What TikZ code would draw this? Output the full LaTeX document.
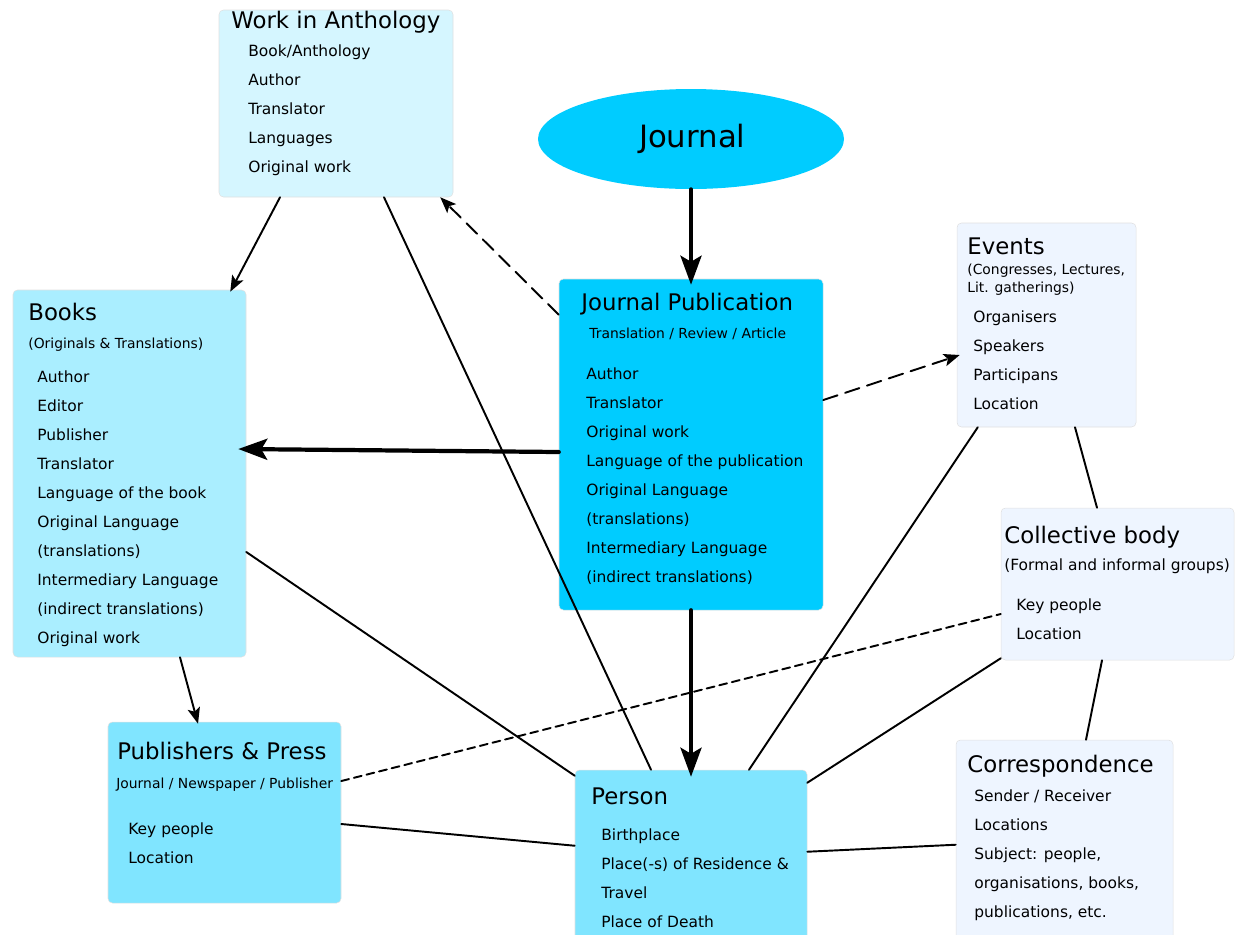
\documentclass[tikz,border=0pt]{standalone}
\usepackage{fontspec}
\setmainfont{DejaVu Sans}
\usetikzlibrary{arrows.meta,shapes.geometric}

\definecolor{jourblue}{HTML}{00CCFF}
\definecolor{bookblue}{HTML}{AAEEFF}
\definecolor{midblue}{HTML}{80E5FF}
\definecolor{paleblue}{HTML}{D5F6FF}
\definecolor{faintblue}{HTML}{EEF5FF}

\begin{document}
\begin{tikzpicture}[x=0.02cm,y=-0.02cm,line cap=round,line join=round,
  every node/.style={inner sep=0pt},
  card/.style={rectangle,rounded corners=2.5pt,draw=black!12,line width=0.3pt},
  dims/.style args={#1/#2}{minimum width={#1*0.02cm},minimum height={#2*0.02cm}},
  head/.style={anchor=base west,font=\fontsize{13}{15}\selectfont},
  sub/.style={anchor=base west,align=left,font=\fontsize{7.9}{9.7}\selectfont},
  items/.style={anchor=base west,align=left,font=\fontsize{8.8}{16.5}\selectfont},
  link/.style={line width=1.1pt},
  heavy/.style={line width=2.4pt,-{Stealth[length=0.58cm,width=0.42cm,inset=0.12cm]}},
  thinarrow/.style={link,-{Stealth[length=0.32cm,width=0.25cm,inset=0.07cm]}}]
  \useasboundingbox (0,0) rectangle (1236,934);
  \clip (0,0) rectangle (1236,934);

  % boxes
  \node[card,fill=paleblue,dims=234/187] (wia) at (336,103.5) {};
  \node[ellipse,fill=jourblue,dims=306/100] (journal) at (691,139) {\fontsize{17.5}{20}\selectfont\hspace{0.05cm}Journal};
  \node[card,fill=jourblue,dims=264/331] (jp) at (691,444.5) {};
  \node[card,fill=faintblue,dims=179/204] (events) at (1046.5,325) {};
  \node[card,fill=faintblue,dims=233/152] (coll) at (1117.5,584) {};
  \node[card,fill=faintblue,dims=217/220] (corr) at (1064.5,850) {};
  \node[card,fill=bookblue,dims=233/367] (books) at (129.5,473.5) {};
  \node[card,fill=midblue,dims=233/181] (pubs) at (224.5,812.5) {};
  \node[card,fill=midblue,dims=232/190] (person) at (691,865) {};

  % texts (multi-line nodes sit on their last baseline)
  \node[head] (wiaT) at (231,28) {Work in Anthology};
  \node[items] (wiaL) at (248,172) {Book/Anthology\\Author\\Translator\\Languages\\Original work};

  \node[head] (jpT) at (581,310) {Journal Publication};
  \node[sub] (jpS) at (589,338) {Translation / Review / Article};
  \node[items] (jpL) at (586,582) {Author\\Translator\\Original work\\Language of the publication\\Original Language\\(translations)\\Intermediary Language\\(indirect translations)};

  \node[head] (eventsT) at (967,254) {Events};
  \node[sub] (eventsS) at (967,292) {(Congresses, Lectures,\\Lit. gatherings)};
  \node[items] (eventsL) at (973,409) {Organisers\\Speakers\\Participans\\Location};

  \node[head] (collT) at (1004,543) {Collective body};
  \node[items] (collS) at (1004,570) {(Formal and informal groups)};
  \node[items] (collL) at (1016,639) {Key people\\Location};

  \node[head] (corrT) at (967,772) {Correspondence};
  \node[items] (corrL) at (974,917) {Sender / Receiver\\Locations\\Subject: people,\\organisations, books,\\publications, etc.};

  \node[head] (booksT) at (28,320) {Books};
  \node[sub] (booksS) at (28,348) {(Originals \& Translations)};
  \node[items] (booksL) at (37,643) {Author\\Editor\\Publisher\\Translator\\Language of the book\\Original Language\\(translations)\\Intermediary Language\\(indirect translations)\\Original work};

  \node[head] (pubsT) at (117,759) {Publishers \& Press};
  \node[sub] (pubsS) at (116,788) {Journal / Newspaper / Publisher};
  \node[items] (pubsL) at (128,863) {Key people\\Location};

  \node[head] (personT) at (591,804) {Person};
  \node[items] (personL) at (601,927) {Birthplace\\Place(-s) of Residence \&\\Travel\\Place of Death};

  % connectors
  \draw[heavy] (journal.south) -- ([yshift=-0.12cm]jp.north);
  \draw[heavy] (jp.south) -- ([yshift=-0.14cm]person.north);
  \draw[heavy] ([yshift=-0.15cm]jp.west) -- ([xshift=-0.16cm,yshift=0.49cm]books.east);
  \draw[thinarrow,dash pattern=on 0.3cm off 0.16cm] ([yshift=-0.72cm]jp.north west) -- ([xshift=-0.26cm]wia.south east);
  \draw[thinarrow,dash pattern=on 0.3cm off 0.16cm] ([yshift=0.89cm]jp.east) -- ([xshift=0.06cm,yshift=-0.6cm]events.west);
  \draw[thinarrow] ([xshift=-1.12cm]wia.south) -- ([xshift=-0.32cm,yshift=-0.04cm]books.north east);
  \draw[link] ([xshift=0.96cm]wia.south) -- ([xshift=-0.8cm]person.north);
  \draw[thinarrow] ([xshift=1.01cm]books.south) -- ([xshift=-0.53cm,yshift=-0.04cm]pubs.north);
  \draw[link] ([yshift=-1.57cm]books.east) -- ([yshift=-0.12cm]person.north west);
  \draw[link] ([yshift=-0.23cm]pubs.east) -- ([yshift=-1.52cm]person.north west);
  \draw[link,dash pattern=on 0.16cm off 0.1cm] ([yshift=0.63cm]pubs.east) -- ([yshift=-0.6cm]coll.west);
  \draw[link] ([xshift=0.42cm]events.south west) -- ([xshift=1.16cm]person.north);
  \draw[link] ([xshift=0.57cm]events.south) -- ([xshift=-0.41cm]coll.north);
  \draw[link] ([yshift=0.04cm]coll.south west) -- ([yshift=-0.26cm]person.north east);
  \draw[link] ([xshift=-0.31cm]coll.south) -- ([xshift=0.43cm]corr.north);
  \draw[link] ([yshift=-1.64cm]person.north east) -- ([yshift=-2.1cm]corr.north west);
\end{tikzpicture}
\end{document}
